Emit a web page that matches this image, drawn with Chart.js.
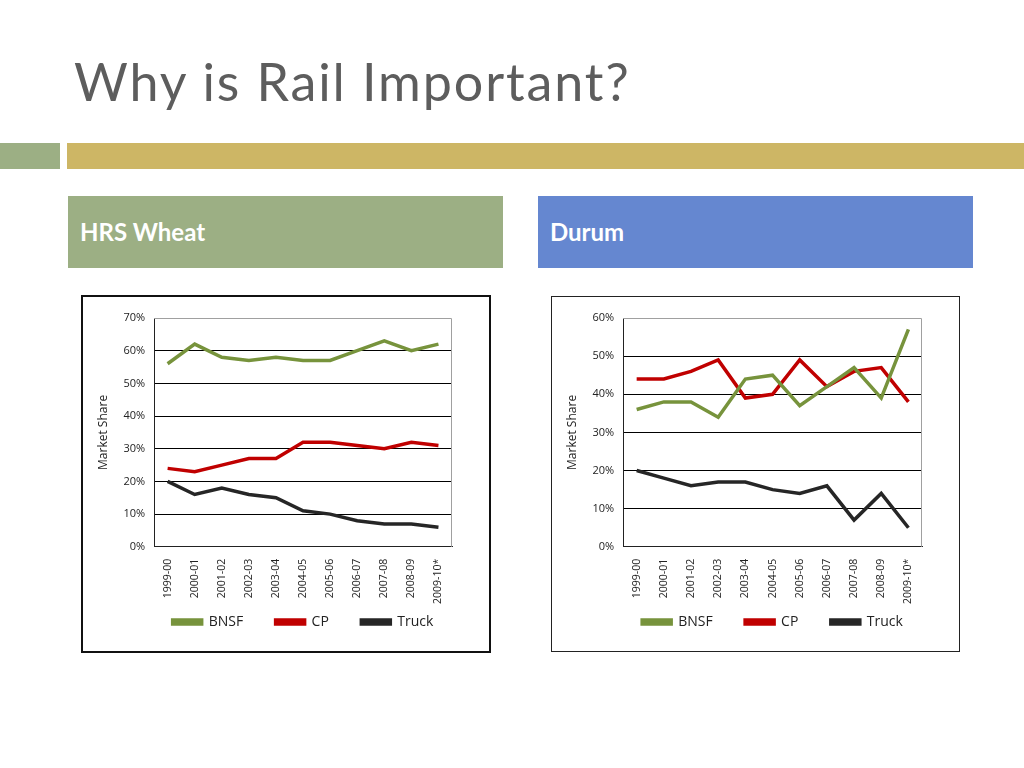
<!DOCTYPE html>
<html lang="en">
<head>
    <meta charset="UTF-8">
    <title>Why is Rail Important?</title>
    <style>
        body {
            margin: 0;
            width: 1024px;
            height: 768px;
            background: #ffffff;
            position: relative;
            overflow: hidden;
            font-family: 'Lato', 'DejaVu Sans', sans-serif;
        }
        .title {
            position: absolute;
            left: 74px;
            top: 50px;
            font-size: 52px;
            color: #5d5d5d;
            letter-spacing: 1.9px;
        }
        .bar-green { position: absolute; left: 0; top: 143px; width: 60px; height: 26px; background: #9caf84; }
        .bar-gold { position: absolute; left: 67px; top: 143px; width: 957px; height: 26px; background: #cdb665; }
        .head {
            position: absolute;
            top: 196px;
            width: 435px;
            height: 72px;
            color: #ffffff;
            font-weight: bold;
            font-size: 24px;
            box-sizing: border-box;
            padding: 21px 0 0 12px;
        }
        .chart-box {
            position: absolute;
            background: #ffffff;
            box-sizing: border-box;
        }
    </style>
</head>
<body>
    <div class="title">Why is Rail Important?</div>
    <div class="bar-green"></div>
    <div class="bar-gold"></div>

    <div class="head" style="left:68px; background:#9caf84;">HRS Wheat</div>
    <div class="head" style="left:538px; background:#6587d0;">Durum</div>

    <div class="chart-box" style="left:81px; top:295px; width:410px; height:358px; border:2px solid #111;">
        <canvas id="hrsChart"></canvas>
    </div>
    <div class="chart-box" style="left:551px; top:296px; width:409px; height:356px; border:1px solid #222;">
        <canvas id="durumChart"></canvas>
    </div>

    <script src="https://cdn.jsdelivr.net/npm/chart.js"></script>
    <script>
        // crop years on the x axis
        const years = ['1999-00', '2000-01', '2001-02', '2002-03', '2003-04', '2004-05',
                       '2005-06', '2006-07', '2007-08', '2008-09', '2009-10*'];

        // HRS Wheat market share (%)
        const hrsBnsf  = [56, 62, 58, 57, 58, 57, 57, 60, 63, 60, 62];
        const hrsCp    = [24, 23, 25, 27, 27, 32, 32, 31, 30, 32, 31];
        const hrsTruck = [20, 16, 18, 16, 15, 11, 10, 8, 7, 7, 6];

        // Durum market share (%)
        const durBnsf  = [36, 38, 38, 34, 44, 45, 37, 42, 47, 39, 57];
        const durCp    = [44, 44, 46, 49, 39, 40, 49, 42, 46, 47, 38];
        const durTruck = [20, 18, 16, 17, 17, 15, 14, 16, 7, 14, 5];

        const seriesNames = ['BNSF', 'CP', 'Truck'];
        const seriesColors = ['#77933c', '#c00000', '#262626'];

        // gray frame on top/right of the plot area like the Excel original
        const plotFrame = {
            id: 'plotFrame',
            afterDraw(chart) {
                const a = chart.chartArea;
                const ctx = chart.ctx;
                ctx.save();
                ctx.strokeStyle = '#a0a0a0';
                ctx.lineWidth = 1;
                ctx.beginPath();
                ctx.moveTo(a.left, a.top + 0.5);
                ctx.lineTo(a.right - 0.5, a.top + 0.5);
                ctx.lineTo(a.right - 0.5, a.bottom);
                ctx.stroke();
                ctx.restore();
            }
        };

        // centre the legend under the plot area instead of the whole canvas
        const legendShift = {
            id: 'legendShift',
            afterLayout(chart) {
                const lg = chart.legend;
                const dx = (chart.chartArea.left + chart.chartArea.right) / 2 - (lg.left + lg.right) / 2;
                lg.left += dx;
                lg.right += dx;
            }
        };

        // wider gaps between legend entries without extra vertical padding
        const gap = '\u00a0'.repeat(7);
        function legendLabels(chart) {
            const items = Chart.defaults.plugins.legend.labels.generateLabels(chart);
            items.forEach((it, i) => {
                if (i < items.length - 1) it.text = it.text + gap;
            });
            return items;
        }

        function makeChart(id, data, yMax) {
            const datasets = data.map((vals, i) => ({
                label: seriesNames[i],
                data: vals,
                borderColor: seriesColors[i],
                backgroundColor: seriesColors[i],
                borderWidth: 3.5,
                pointRadius: 0,
                tension: 0
            }));

            return new Chart(document.getElementById(id), {
                type: 'line',
                data: { labels: years, datasets: datasets },
                plugins: [plotFrame, legendShift],
                options: {
                    responsive: true,
                    maintainAspectRatio: false,
                    animation: false,
                    layout: { padding: { left: 9, right: 0, top: 21, bottom: 12 } },
                    plugins: {
                        tooltip: { enabled: false },
                        legend: {
                            position: 'bottom',
                            labels: {
                                boxWidth: 29,
                                boxHeight: 4,
                                padding: 7,
                                color: '#222',
                                font: { family: 'Open Sans', size: 14 },
                                generateLabels: legendLabels
                            }
                        }
                    },
                    scales: {
                        x: {
                            offset: true,
                            grid: { display: false },
                            border: { color: '#222', width: 1 },
                            ticks: {
                                maxRotation: 90,
                                minRotation: 90,
                                padding: 4,
                                color: '#222',
                                font: { family: 'Open Sans', size: 10.5 }
                            }
                        },
                        y: {
                            min: 0,
                            max: yMax,
                            border: { color: '#222', width: 1 },
                            grid: {
                                color: c => c.tick.value === yMax ? 'rgba(0,0,0,0)' : '#000',
                                drawTicks: false
                            },
                            ticks: {
                                stepSize: 10,
                                padding: 9,
                                color: '#222',
                                font: { family: 'Open Sans', size: 11 },
                                callback: v => v + '%'
                            },
                            title: {
                                display: true,
                                text: 'Market Share',
                                color: '#222',
                                font: { family: 'Open Sans', size: 12 }
                            }
                        },
                        // empty right axis that only reserves space on the right
                        yRight: {
                            position: 'right',
                            grid: { display: false },
                            border: { display: false },
                            ticks: { display: false },
                            afterFit: s => { s.width = 37; }
                        }
                    }
                }
            });
        }

        makeChart('hrsChart', [hrsBnsf, hrsCp, hrsTruck], 70);
        makeChart('durumChart', [durBnsf, durCp, durTruck], 60);
    </script>
</body>
</html>
